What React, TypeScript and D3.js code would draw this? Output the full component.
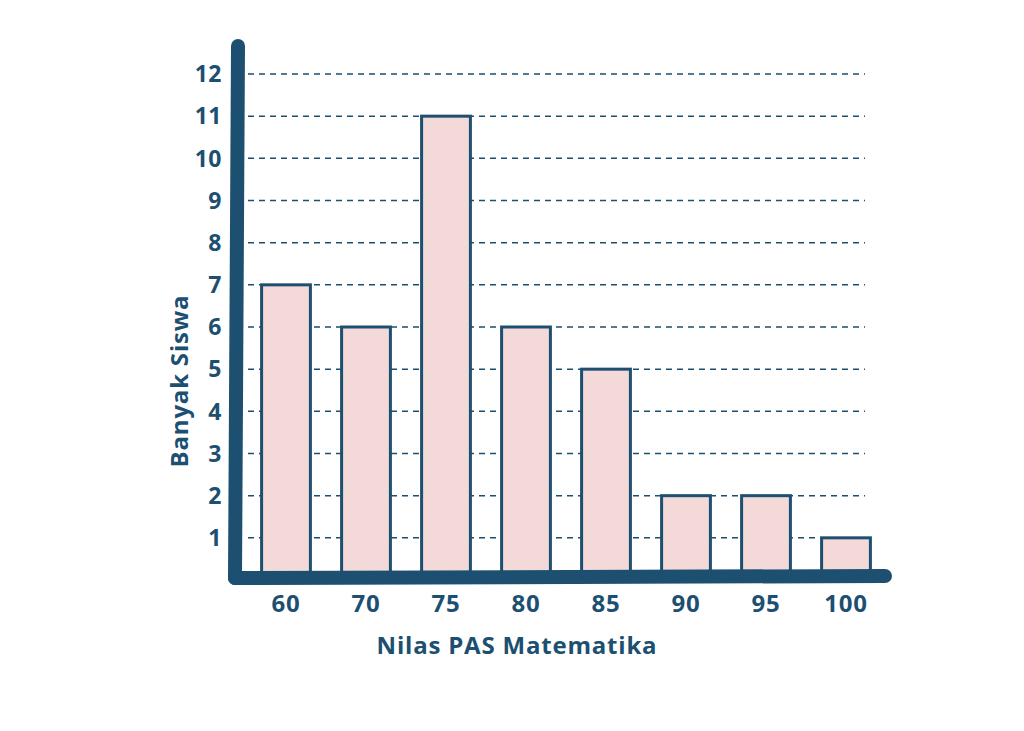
import React from "react";
import * as d3 from "d3";

const categories = ["60", "70", "75", "80", "85", "90", "95", "100"];
const values = [7, 6, 11, 6, 5, 2, 2, 1];
const yTicks = [1, 2, 3, 4, 5, 6, 7, 8, 9, 10, 11, 12];
const xTitle = "Nilas PAS Matematika";
const yTitle = "Banyak Siswa";

const W = 1024;
const H = 731;
const C = "#1c4f70";
const FILL = "#f4d9d9";
const FONT = "'Open Sans', Lato, sans-serif";

export default function App() {
  const x = d3.scaleBand<string>().domain(categories).range([246, 886]).paddingInner(0.39).paddingOuter(0.195);
  const y = d3.scaleLinear().domain([0, 12]).range([580, 74]);
  return (
    <svg width={W} height={H} style={{ display: "block", position: "absolute", left: 0, top: 0 }}>
      <rect width={W} height={H} fill="#fff" />
      {yTicks.map((t) => (
        <line key={t} x1={248} x2={865} y1={y(t)} y2={y(t)} stroke={C} strokeWidth={1.5} strokeDasharray="6 5" />
      ))}
      {categories.map((c, i) => (
        <rect key={c} x={x(c)} y={y(values[i])} width={x.bandwidth()} height={y(0) - y(values[i])}
          fill={FILL} stroke={C} strokeWidth={3} />
      ))}
      <line x1={238} y1={46} x2={235} y2={578} stroke={C} strokeWidth={14} strokeLinecap="round" />
      <line x1={235} y1={578} x2={885} y2={576} stroke={C} strokeWidth={14} strokeLinecap="round" />
      {yTicks.map((t) => (
        <text key={t} x={222} y={y(t)} dy="0.36em" textAnchor="end" fill={C}
          fontFamily={FONT} fontWeight={700} fontSize={23} letterSpacing={0.5}>{t}</text>
      ))}
      {categories.map((c) => (
        <text key={c} x={(x(c) as number) + x.bandwidth() / 2} y={603} dy="0.36em" textAnchor="middle" fill={C}
          fontFamily={FONT} fontWeight={700} fontSize={24} letterSpacing={0.8}>{c}</text>
      ))}
      <text x={517} y={645} dy="0.36em" textAnchor="middle" fill={C} fontFamily={FONT} fontWeight={700} fontSize={24} letterSpacing={0.8}>{xTitle}</text>
      <text transform="translate(179,381) rotate(-90)" dy="0.36em" textAnchor="middle" fill={C}
        fontFamily={FONT} fontWeight={700} fontSize={24} letterSpacing={0.8}>{yTitle}</text>
    </svg>
  );
}
